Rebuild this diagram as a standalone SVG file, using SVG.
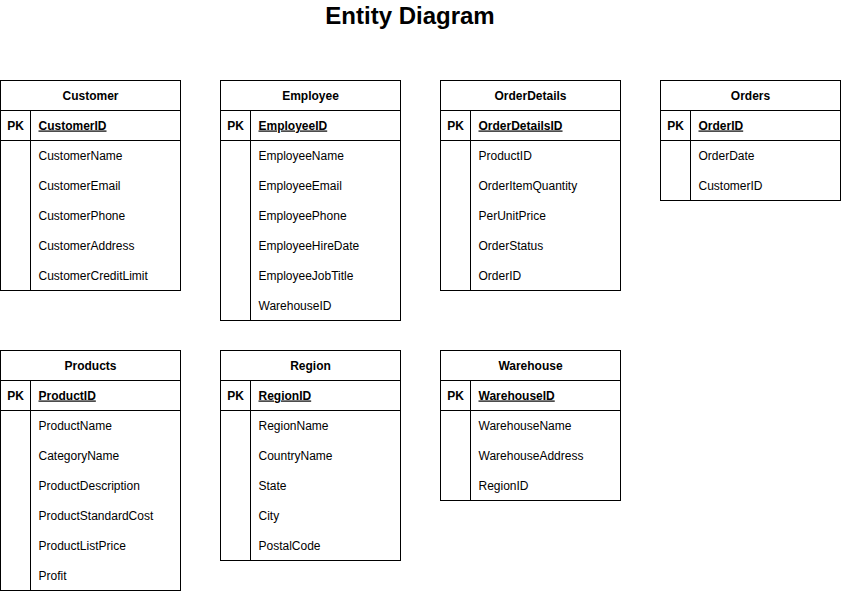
<svg xmlns="http://www.w3.org/2000/svg" width="842" height="591" viewBox="0 0 842 591">
<style>
.box{fill:#fff;stroke:#000;stroke-width:1}
.ln{stroke:#000;stroke-width:1;fill:none}
text{font-family:"Liberation Sans",Arial,sans-serif;font-size:12px;fill:#000}
.h{font-weight:bold;text-anchor:middle}
.pk{font-weight:bold;text-anchor:middle}
.k{font-weight:bold;text-decoration:underline}
.t{font-size:24px;font-weight:bold;text-anchor:middle}
</style>
<rect width="842" height="591" fill="#fff"/>
<text class="t" x="410" y="24">Entity Diagram</text>

<g id="Customer" transform="translate(0.5,80.5)">
<rect class="box" width="180" height="210"/>
<path class="ln" d="M0 30H180M0 60H180M30 30V210"/>
<text class="h" x="90" y="19">Customer</text>
<text class="pk" x="15" y="49">PK</text>
<text class="k" x="38" y="49">CustomerID</text>
<text x="38" y="79">CustomerName</text>
<text x="38" y="109">CustomerEmail</text>
<text x="38" y="139">CustomerPhone</text>
<text x="38" y="169">CustomerAddress</text>
<text x="38" y="199">CustomerCreditLimit</text>
</g>

<g id="Employee" transform="translate(220.5,80.5)">
<rect class="box" width="180" height="240"/>
<path class="ln" d="M0 30H180M0 60H180M30 30V240"/>
<text class="h" x="90" y="19">Employee</text>
<text class="pk" x="15" y="49">PK</text>
<text class="k" x="38" y="49">EmployeeID</text>
<text x="38" y="79">EmployeeName</text>
<text x="38" y="109">EmployeeEmail</text>
<text x="38" y="139">EmployeePhone</text>
<text x="38" y="169">EmployeeHireDate</text>
<text x="38" y="199">EmployeeJobTitle</text>
<text x="38" y="229">WarehouseID</text>
</g>

<g id="OrderDetails" transform="translate(440.5,80.5)">
<rect class="box" width="180" height="210"/>
<path class="ln" d="M0 30H180M0 60H180M30 30V210"/>
<text class="h" x="90" y="19">OrderDetails</text>
<text class="pk" x="15" y="49">PK</text>
<text class="k" x="38" y="49">OrderDetailsID</text>
<text x="38" y="79">ProductID</text>
<text x="38" y="109">OrderItemQuantity</text>
<text x="38" y="139">PerUnitPrice</text>
<text x="38" y="169">OrderStatus</text>
<text x="38" y="199">OrderID</text>
</g>

<g id="Orders" transform="translate(660.5,80.5)">
<rect class="box" width="180" height="120"/>
<path class="ln" d="M0 30H180M0 60H180M30 30V120"/>
<text class="h" x="90" y="19">Orders</text>
<text class="pk" x="15" y="49">PK</text>
<text class="k" x="38" y="49">OrderID</text>
<text x="38" y="79">OrderDate</text>
<text x="38" y="109">CustomerID</text>
</g>

<g id="Products" transform="translate(0.5,350.5)">
<rect class="box" width="180" height="240"/>
<path class="ln" d="M0 30H180M0 60H180M30 30V240"/>
<text class="h" x="90" y="19">Products</text>
<text class="pk" x="15" y="49">PK</text>
<text class="k" x="38" y="49">ProductID</text>
<text x="38" y="79">ProductName</text>
<text x="38" y="109">CategoryName</text>
<text x="38" y="139">ProductDescription</text>
<text x="38" y="169">ProductStandardCost</text>
<text x="38" y="199">ProductListPrice</text>
<text x="38" y="229">Profit</text>
</g>

<g id="Region" transform="translate(220.5,350.5)">
<rect class="box" width="180" height="210"/>
<path class="ln" d="M0 30H180M0 60H180M30 30V210"/>
<text class="h" x="90" y="19">Region</text>
<text class="pk" x="15" y="49">PK</text>
<text class="k" x="38" y="49">RegionID</text>
<text x="38" y="79">RegionName</text>
<text x="38" y="109">CountryName</text>
<text x="38" y="139">State</text>
<text x="38" y="169">City</text>
<text x="38" y="199">PostalCode</text>
</g>

<g id="Warehouse" transform="translate(440.5,350.5)">
<rect class="box" width="180" height="150"/>
<path class="ln" d="M0 30H180M0 60H180M30 30V150"/>
<text class="h" x="90" y="19">Warehouse</text>
<text class="pk" x="15" y="49">PK</text>
<text class="k" x="38" y="49">WarehouseID</text>
<text x="38" y="79">WarehouseName</text>
<text x="38" y="109">WarehouseAddress</text>
<text x="38" y="139">RegionID</text>
</g>

<g id="connectors"></g>
</svg>
